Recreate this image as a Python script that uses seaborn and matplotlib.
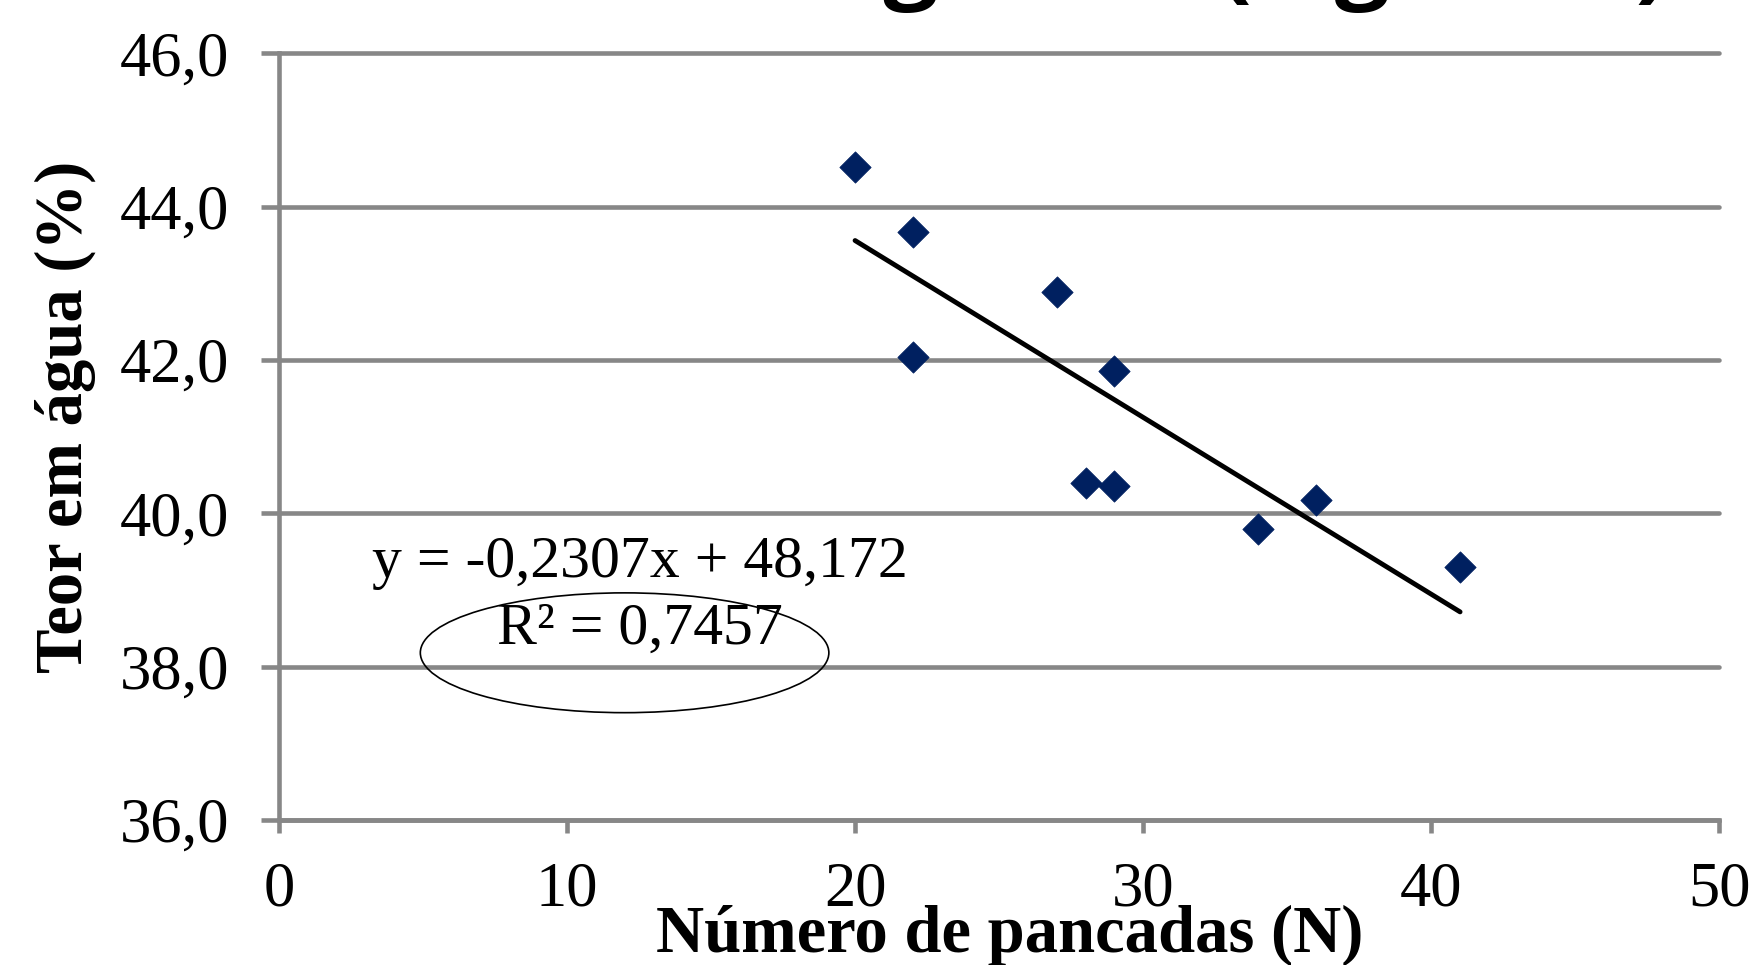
import numpy as np
import pandas as pd
import matplotlib
matplotlib.use("Agg")
import matplotlib.pyplot as plt
from matplotlib.patches import Ellipse
import seaborn as sns

# ================= DATA =================
pancadas = [20, 22, 22, 27, 29, 28, 29, 34, 36, 41]
teor_agua = [44.52, 43.67, 42.04, 42.89, 41.86, 40.40, 40.35, 39.80, 40.17, 39.30]

slope = -0.2307
intercept = 48.172
r2_text = "R² = 0,7457"
eq_text = "y = -0,2307x + 48,172"

y_ticks = [36, 38, 40, 42, 44, 46]
y_labels = ["36,0", "38,0", "40,0", "42,0", "44,0", "46,0"]
x_ticks = [0, 10, 20, 30, 40, 50]
x_labels = ["0", "10", "20", "30", "40", "50"]

titulo = "Diagrama (Figura 1)"
xlabel = "Número de pancadas (N)"
ylabel = "Teor em água (%)"

df = pd.DataFrame({"N": pancadas, "w": teor_agua})
x_fit = np.array([df["N"].min(), df["N"].max()])
df_fit = pd.DataFrame({"N": x_fit, "w": slope * x_fit + intercept})

# ================= STYLE =================
sns.set_theme(style="white")
plt.rcParams["font.family"] = ["Liberation Serif", "DejaVu Serif"]
plt.rcParams["text.color"] = "black"
plt.rcParams["axes.labelcolor"] = "black"
plt.rcParams["xtick.labelcolor"] = "black"
plt.rcParams["ytick.labelcolor"] = "black"
grid_col = "#878787"

fig = plt.figure(figsize=(17.55, 9.65), dpi=100)
ax = fig.add_axes([0.1589, 0.1504, 0.8208, 0.7943])

sns.scatterplot(data=df, x="N", y="w", marker="D", s=255, color="#002060",
                edgecolor="#002060", linewidth=0.5, ax=ax, zorder=4, clip_on=False)
sns.lineplot(data=df_fit, x="N", y="w", color="black", lw=3.5, ax=ax, zorder=3)

ax.set_xlim(0, 50)
ax.set_ylim(36, 46)
ax.set_yticks(y_ticks)
ax.set_yticklabels(y_labels)
ax.set_xticks(x_ticks)
ax.set_xticklabels(x_labels)

ax.yaxis.grid(True, color=grid_col, lw=3.3)
ax.xaxis.grid(False)
for gl in ax.get_ygridlines():
    gl.set_clip_on(False)
ax.set_axisbelow(True)

for side in ["top", "right"]:
    ax.spines[side].set_visible(False)
for side in ["left", "bottom"]:
    ax.spines[side].set_color(grid_col)
    ax.spines[side].set_linewidth(3.3)

ax.tick_params(axis="y", direction="out", length=13, width=3.3, color=grid_col,
               pad=23, labelsize=45, left=True)
ax.tick_params(axis="x", direction="out", length=9, width=3.3, color=grid_col,
               pad=21, labelsize=45, bottom=True)

ax.set_xlabel(xlabel, fontsize=48, fontweight="bold", va="baseline")
ax.xaxis.set_label_coords(0.5076, -0.1715)
ax.set_ylabel(ylabel, fontsize=48, fontweight="bold", va="center", ha="center")
ax.yaxis.set_label_coords(-0.148, 0.5256)

# equation and R2 annotation
ax.text(12.54, 39.35, eq_text, fontsize=43, ha="center", va="center")
ax.text(12.54, 38.48, r2_text, fontsize=43, ha="center", va="center")
ax.add_patch(Ellipse((12.0, 38.18), 14.18, 1.563, fill=False, ec="black", lw=1.2, zorder=5))

# title, only its lower edge shows at the top of the picture
fig.text(723 / 1755, 1.0104, titulo, fontsize=70, fontweight="bold",
         family=["Open Sans", "DejaVu Sans"], ha="left", va="baseline")

fig.savefig("out.png", dpi=100)
